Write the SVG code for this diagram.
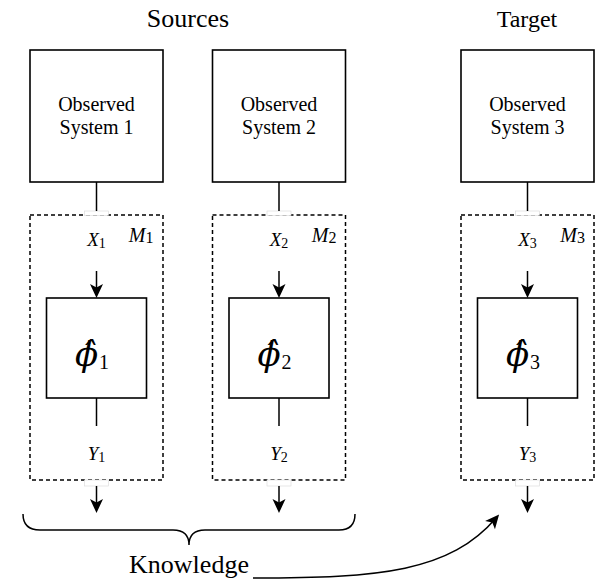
<svg xmlns="http://www.w3.org/2000/svg" width="600" height="579" viewBox="0 0 600 579">
<style>
text{fill:#000}
.title{font-size:26px}
.obs{font-size:20px}
.lab{font-size:19px;font-style:italic}
.sub{font-size:14px;font-style:normal}
.msub{font-size:16px;font-style:normal}
.phi{font-size:34px;font-style:italic;font-family:"DejaVu Serif","DejaVu Sans",serif}
.phisub{font-size:20px;font-style:normal;font-family:"Liberation Serif","Times New Roman",serif}
.box{fill:#fff;stroke:#000;stroke-width:1.6}
.dash{fill:none;stroke:#000;stroke-width:1.5;stroke-dasharray:4 3}
.port{fill:#fff;stroke:#d8d8d8;stroke-width:0.6}
.ln{fill:none;stroke:#000;stroke-width:1.5}
.arr{fill:none;stroke:#000;stroke-width:1.5;marker-end:url(#ah)}
</style>
<defs>
<marker id="ah" markerUnits="userSpaceOnUse" viewBox="-15 -8 17 16" markerWidth="17" markerHeight="16" refX="-4" refY="0" orient="auto">
<path d="M0,0 L-14,-6.5 L-10.5,0 L-14,6.5 Z" fill="#000"/>
</marker>
</defs>
<g font-family="'Liberation Serif', 'Times New Roman', Times, 'DejaVu Serif', serif">

<text class="title" x="188" y="27" text-anchor="middle">Sources</text>
<text class="title" x="527" y="27" text-anchor="middle" style="font-size:24px">Target</text>

<g id="system1">
<rect class="box" x="30" y="50" width="133" height="132"/>
<text class="obs" x="96.5" y="111" text-anchor="middle">Observed</text>
<text class="obs" x="96.5" y="134" text-anchor="middle">System 1</text>
</g>
<g id="system2">
<rect class="box" x="212.5" y="50" width="133" height="132"/>
<text class="obs" x="279" y="111" text-anchor="middle">Observed</text>
<text class="obs" x="279" y="134" text-anchor="middle">System 2</text>
</g>
<g id="system3">
<rect class="box" x="461" y="50" width="133" height="132"/>
<text class="obs" x="527.5" y="111" text-anchor="middle">Observed</text>
<text class="obs" x="527.5" y="134" text-anchor="middle">System 3</text>
</g>

<g id="model1">
<rect class="dash" x="30" y="215" width="133" height="265"/>
<rect class="port" x="84.5" y="211" width="24" height="4.5"/>
<rect class="port" x="84.5" y="480" width="24" height="6"/>
<text class="lab" x="96.5" y="246" text-anchor="middle">X<tspan class="sub" dy="2">1</tspan></text>
<text class="lab" x="153.5" y="242" text-anchor="end" style="font-size:20px">M<tspan class="msub" dy="1">1</tspan></text>
<text class="lab" x="96.5" y="460" text-anchor="middle">Y<tspan class="sub" dy="2">1</tspan></text>
</g>
<g id="phi1">
<rect class="box" x="46.5" y="298" width="100" height="100"/>
<text class="phi" x="75" y="366">ϕ&#x302;<tspan class="phisub" x="99" y="369">1</tspan></text>
</g>

<g id="model2">
<rect class="dash" x="212.5" y="215" width="133" height="265"/>
<rect class="port" x="267" y="211" width="24" height="4.5"/>
<rect class="port" x="267" y="480" width="24" height="6"/>
<text class="lab" x="279" y="246" text-anchor="middle">X<tspan class="sub" dy="2">2</tspan></text>
<text class="lab" x="336.5" y="242" text-anchor="end" style="font-size:20px">M<tspan class="msub" dy="1">2</tspan></text>
<text class="lab" x="279" y="460" text-anchor="middle">Y<tspan class="sub" dy="2">2</tspan></text>
</g>
<g id="phi2">
<rect class="box" x="229" y="298" width="100" height="100"/>
<text class="phi" x="257.5" y="366">ϕ&#x302;<tspan class="phisub" x="281.5" y="369">2</tspan></text>
</g>

<g id="model3">
<rect class="dash" x="461" y="215" width="133" height="265"/>
<rect class="port" x="515.5" y="211" width="24" height="4.5"/>
<rect class="port" x="515.5" y="480" width="24" height="6"/>
<text class="lab" x="527.5" y="246" text-anchor="middle">X<tspan class="sub" dy="2">3</tspan></text>
<text class="lab" x="585" y="242" text-anchor="end" style="font-size:20px">M<tspan class="msub" dy="1">3</tspan></text>
<text class="lab" x="527.5" y="460" text-anchor="middle">Y<tspan class="sub" dy="2">3</tspan></text>
</g>
<g id="phi3">
<rect class="box" x="477.5" y="298" width="100" height="100"/>
<text class="phi" x="506" y="366">ϕ&#x302;<tspan class="phisub" x="530" y="369">3</tspan></text>
</g>

<g id="knowledge">
<path class="ln" d="M23,514 Q23,530 40,530 L173,530 Q189,530 189,545 Q189,530 205,530 L339,530 Q355,530 355,514"/>
<text class="title" x="189" y="573" text-anchor="middle">Knowledge</text>
</g>
</g>

<g id="connectors">
<line class="ln" x1="96.5" y1="182" x2="96.5" y2="211"/>
<line class="ln" x1="279" y1="182" x2="279" y2="211"/>
<line class="ln" x1="527.5" y1="182" x2="527.5" y2="211"/>
<line class="arr" x1="96.5" y1="271" x2="96.5" y2="294"/>
<line class="arr" x1="279" y1="271" x2="279" y2="294"/>
<line class="arr" x1="527.5" y1="271" x2="527.5" y2="294"/>
<line class="ln" x1="96.5" y1="398" x2="96.5" y2="426"/>
<line class="ln" x1="279" y1="398" x2="279" y2="426"/>
<line class="ln" x1="527.5" y1="398" x2="527.5" y2="426"/>
<line class="arr" x1="96.5" y1="486" x2="96.5" y2="509"/>
<line class="arr" x1="279" y1="486" x2="279" y2="509"/>
<line class="arr" x1="527.5" y1="486" x2="527.5" y2="509"/>
<path class="arr" d="M253,578 C380,578 450,572 496.5,517.5"/>
</g>
</svg>
